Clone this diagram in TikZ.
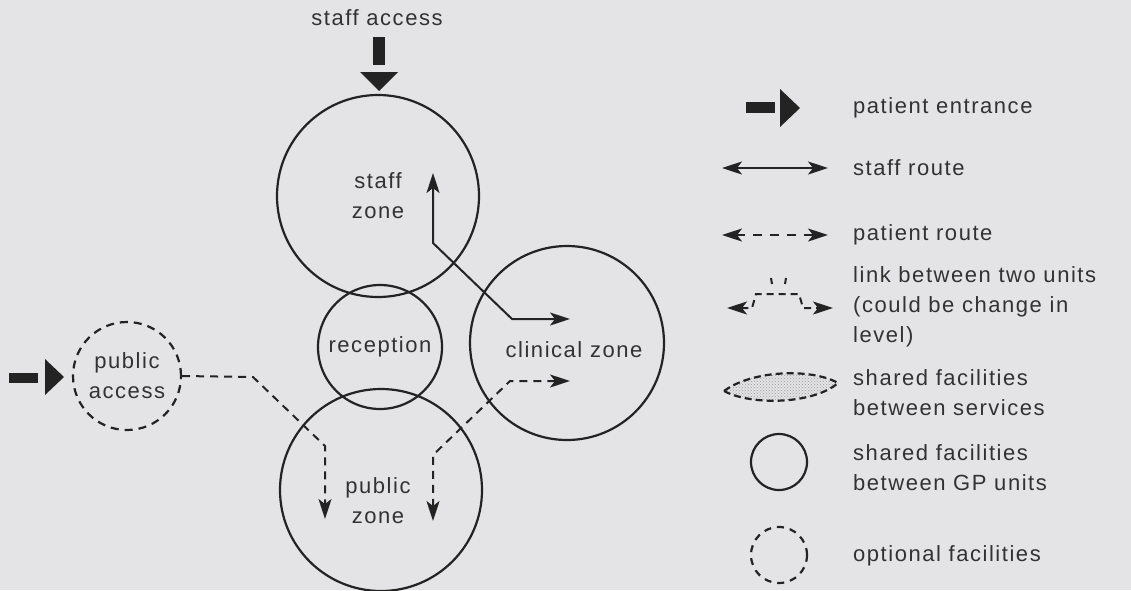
\documentclass[tikz,border=0pt]{standalone}
\usepackage{fontspec}
\setmainfont{Liberation Sans}[LetterSpace=7]
\usetikzlibrary{arrows.meta,patterns}
\definecolor{bg}{RGB}{228,228,230}
\definecolor{ink}{RGB}{35,35,35}
\definecolor{txt}{RGB}{50,50,50}
\tikzset{
  lbl/.style={font=\fontsize{22}{30}\selectfont, text=txt, align=center, inner sep=0pt},
  legtxt/.style={lbl, align=left, anchor=west},
  zone/.style={circle, draw=ink, line width=2.2pt, inner sep=0pt, font=\fontsize{22}{30}\selectfont, text=txt, align=center},
  optzone/.style={zone, dash pattern=on 8pt off 6pt},
  sroute/.style={draw=ink, line width=2pt, {Stealth[length=20pt,width=13pt,inset=5pt]}-{Stealth[length=20pt,width=13pt,inset=5pt]}},
  proute/.style={sroute, dash pattern=on 8pt off 6pt},
  oneway/.style={draw=ink, line width=2pt, dash pattern=on 8pt off 6pt, -{Stealth[length=20pt,width=13pt,inset=5pt]}},
  fat/.style={fill=ink}
}
\begin{document}
\begin{tikzpicture}[x=1pt,y=-1pt]
\fill[bg] (0,0) rectangle (1131,590);
\useasboundingbox (0,0) rectangle (1131,590);

% zones
\node[zone, minimum size=202pt] (sz) at (378,196) {staff\\zone};
\node[zone, minimum size=124pt] (rc) at (380,347) {reception};
\node[zone, minimum size=194pt] (cz) at (567,343) {};
\node[lbl] (czl) at (574,350) {clinical zone};
\node[zone, minimum size=202pt] (pz) at (381,490) {};
\node[lbl] (pzl) at (378,501) {public\\zone};
\node[optzone, minimum size=108pt] (pa) at (127,376) {public\\access};

% staff access
\node[lbl] (sa) at (377,18) {staff access};
\fill[fat] (373,37) rectangle (385,65);
\fill[fat] (360,72) -- (398,72) -- (379,91) -- cycle;

% patient entrance (left)
\fill[fat] (9,373) rectangle (38,383);
\fill[fat] (45,359) -- (64,377) -- (45,395) -- cycle;

% staff route
\coordinate (s1) at (433,173);
\coordinate (s2) at (433,243);
\coordinate (s3) at (512,319);
\coordinate (s4) at (570,319);
\draw[sroute] (s1) -- (s2) -- (s3) -- (s4);

% patient route 1
\coordinate (p1) at (253,377);
\coordinate (p2) at (325,446);
\coordinate (p3) at (325,519);
\draw[oneway] (pa.east) -- (p1) -- (p2) -- (p3);

% patient route 2
\coordinate (q1) at (433,521);
\coordinate (q2) at (433,455);
\coordinate (q3) at (510,381);
\coordinate (q4) at (570,381);
\draw[proute] (q1) -- (q2) -- (q3) -- (q4);

% legend icons
\fill[fat] (746,102) rectangle (775,113);
\fill[fat] (780,89) -- (800,108) -- (780,127) -- cycle;

\coordinate (l1a) at (722,168);
\coordinate (l1b) at (828,168);
\draw[sroute] (l1a) -- (l1b);

\coordinate (l2a) at (722,235);
\coordinate (l2b) at (828,235);
\draw[proute, dash pattern=on 9pt off 8pt] (l2a) -- (l2b);

\coordinate (l3a) at (727,308);
\coordinate (l3b) at (752,308);
\coordinate (l3c) at (756,294);
\coordinate (l3d) at (799,294);
\coordinate (l3e) at (803,308);
\coordinate (l3f) at (833,308);
\draw[proute, dash pattern=on 7pt off 5pt] (l3a) -- (l3b) -- (l3c) -- (l3d) -- (l3e) -- (l3f);
\draw[ink, line width=2pt] (771,278) -- (772,284);
\draw[ink, line width=2pt] (786,278) -- (785,284);

\draw[ink, line width=2.2pt, dash pattern=on 7pt off 4pt, pattern=crosshatch dots, pattern color=gray!80]
  (724,391) .. controls (752,370) and (812,368) .. (838,383) .. controls (814,404) and (752,406) .. (724,391) -- cycle;

\node[zone, minimum size=56pt] (gc) at (779,462) {};
\node[optzone, minimum size=56pt, dash pattern=on 7pt off 6pt] (oc) at (779,555) {};

% legend texts
\node[legtxt] (t1) at (853,108) {patient entrance};
\node[legtxt] (t2) at (853,168) {staff route};
\node[legtxt] (t3) at (853,235) {patient route};
\node[legtxt] (t4) at (853,307) {link between two units\\(could be change in\\level)};
\node[legtxt] (t5) at (853,393) {shared facilities\\between services};
\node[legtxt] (t6) at (853,468) {shared facilities\\between GP units};
\node[legtxt] (t7) at (853,556) {optional facilities};
\end{tikzpicture}
\end{document}
